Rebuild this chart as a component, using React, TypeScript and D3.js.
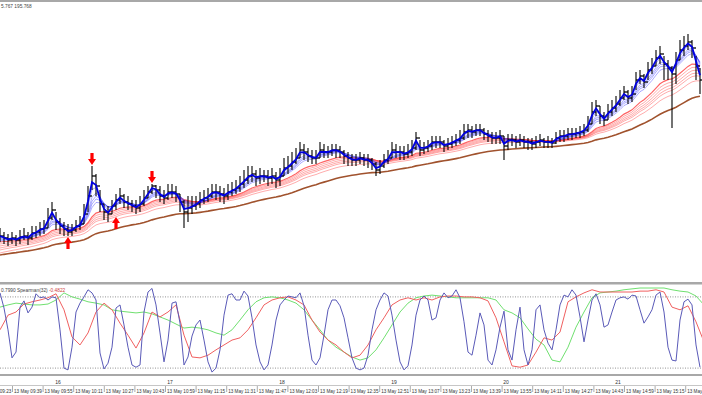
import * as d3 from "d3";
import React from "react";

// 2-minute points (price)
const closes = [
  194.82, 194.81, 194.8, 194.81, 194.8, 194.815, 194.82, 194.81, 194.835, 194.84, 194.855, 194.86,
  194.91, 194.95, 194.89, 194.87, 194.855, 194.84, 194.85, 194.87, 194.88, 194.93, 195.02, 195.12,
  195.07, 194.98, 194.94, 194.93, 194.97, 195.0, 195.02, 194.99, 194.98, 194.97, 194.96, 194.98,
  195.01, 195.04, 195.07, 195.05, 195.02, 195.01, 195.04, 195.04, 195.03, 194.99, 194.94, 194.96,
  194.97, 194.98, 195.0, 195.01, 195.02, 195.04, 195.04, 195.03, 195.02, 195.04, 195.05, 195.06,
  195.08, 195.1, 195.12, 195.13, 195.11, 195.12, 195.12, 195.11, 195.12, 195.1, 195.12, 195.16,
  195.17, 195.19, 195.21, 195.25, 195.24, 195.22, 195.21, 195.21, 195.25, 195.24, 195.24, 195.25,
  195.25, 195.24, 195.22, 195.21, 195.2, 195.2, 195.21, 195.2, 195.2, 195.18, 195.15, 195.17,
  195.2, 195.21, 195.25, 195.24, 195.24, 195.23, 195.24, 195.26, 195.31, 195.25, 195.26, 195.27,
  195.29, 195.29, 195.29, 195.27, 195.28, 195.29, 195.3, 195.31, 195.34, 195.35, 195.34, 195.35,
  195.35, 195.33, 195.32, 195.31, 195.31, 195.32, 195.27, 195.3, 195.3, 195.29, 195.3, 195.29,
  195.29, 195.28, 195.29, 195.3, 195.29, 195.29, 195.285, 195.31, 195.32, 195.32, 195.33, 195.33,
  195.335, 195.34, 195.35, 195.38, 195.44, 195.47, 195.42, 195.4, 195.44, 195.46, 195.48, 195.51,
  195.54, 195.51, 195.53, 195.6, 195.62, 195.59, 195.65, 195.67, 195.71, 195.73, 195.68, 195.66,
  195.63, 195.7, 195.75, 195.77, 195.79, 195.76, 195.67, 195.6,
];
const highs = [
  194.86, 194.84, 194.83, 194.84, 194.825, 194.85, 194.86, 194.84, 194.87, 194.87, 194.89, 194.9,
  194.96, 194.99, 194.94, 194.91, 194.89, 194.88, 194.88, 194.9, 194.92, 194.98, 195.07, 195.17,
  195.13, 195.05, 194.98, 194.97, 195.0, 195.03, 195.06, 195.03, 195.02, 195.0, 195.0, 195.02,
  195.05, 195.07, 195.08, 195.075, 195.07, 195.05, 195.08, 195.08, 195.07, 195.03, 195.0, 195.02,
  195.02, 195.02, 195.04, 195.05, 195.06, 195.08, 195.08, 195.07, 195.06, 195.08, 195.09, 195.1,
  195.12, 195.15, 195.17, 195.17, 195.15, 195.16, 195.15, 195.15, 195.16, 195.14, 195.16, 195.21,
  195.22, 195.24, 195.26, 195.29, 195.28, 195.26, 195.25, 195.25, 195.29, 195.28, 195.27, 195.28,
  195.28, 195.27, 195.25, 195.24, 195.23, 195.23, 195.24, 195.23, 195.23, 195.21, 195.19, 195.2,
  195.23, 195.25, 195.29, 195.28, 195.27, 195.27, 195.28, 195.3, 195.34, 195.3, 195.29, 195.3,
  195.32, 195.32, 195.32, 195.3, 195.31, 195.32, 195.33, 195.35, 195.38, 195.38, 195.37, 195.38,
  195.38, 195.36, 195.35, 195.34, 195.34, 195.35, 195.32, 195.33, 195.33, 195.32, 195.33, 195.32,
  195.31, 195.31, 195.32, 195.33, 195.31, 195.32, 195.31, 195.34, 195.35, 195.35, 195.36, 195.36,
  195.36, 195.37, 195.38, 195.42, 195.49, 195.5, 195.47, 195.44, 195.48, 195.5, 195.52, 195.55,
  195.57, 195.55, 195.57, 195.64, 195.65, 195.63, 195.69, 195.71, 195.75, 195.77, 195.72, 195.7,
  195.67, 195.74, 195.8, 195.82, 195.83, 195.8, 195.72, 195.66,
];
const lows = [
  194.79, 194.78, 194.77, 194.78, 194.77, 194.78, 194.8, 194.775, 194.8, 194.81, 194.82, 194.83,
  194.86, 194.9, 194.85, 194.83, 194.82, 194.82, 194.82, 194.84, 194.85, 194.88, 194.94, 195.05,
  195.02, 194.94, 194.9, 194.89, 194.93, 194.95, 194.98, 194.96, 194.95, 194.94, 194.93, 194.94,
  194.97, 195.01, 195.03, 195.01, 194.99, 194.98, 195.0, 195.01, 194.99, 194.94, 194.86, 194.89,
  194.93, 194.95, 194.96, 194.98, 194.99, 195.01, 195.0, 194.99, 194.98, 195.0, 195.02, 195.03,
  195.04, 195.06, 195.08, 195.09, 195.07, 195.08, 195.09, 195.07, 195.08, 195.06, 195.07, 195.12,
  195.13, 195.15, 195.18, 195.21, 195.2, 195.19, 195.18, 195.18, 195.21, 195.21, 195.21, 195.22,
  195.21, 195.21, 195.18, 195.17, 195.17, 195.17, 195.18, 195.17, 195.16, 195.15, 195.12, 195.13,
  195.16, 195.18, 195.21, 195.21, 195.2, 195.2, 195.21, 195.22, 195.25, 195.22, 195.23, 195.24,
  195.25, 195.26, 195.26, 195.24, 195.25, 195.26, 195.27, 195.28, 195.3, 195.31, 195.31, 195.32,
  195.32, 195.3, 195.29, 195.28, 195.28, 195.28, 195.2, 195.25, 195.27, 195.26, 195.27, 195.26,
  195.25, 195.25, 195.26, 195.27, 195.26, 195.26, 195.26, 195.28, 195.29, 195.29, 195.3, 195.3,
  195.31, 195.31, 195.32, 195.34, 195.38, 195.42, 195.38, 195.37, 195.4, 195.42, 195.44, 195.47,
  195.5, 195.48, 195.49, 195.55, 195.58, 195.56, 195.6, 195.63, 195.67, 195.68, 195.6, 195.6,
  195.36, 195.58, 195.7, 195.72, 195.75, 195.71, 195.6, 195.53,
];

// moving average ribbons (periods in 1-minute bars) and their values at the left edge
const fastPeriods = [3, 5, 8, 10, 12, 15];
const fastSeeds = [194.82, 194.815, 194.81, 194.805, 194.8, 194.795];
const slowPeriods = [30, 35, 40, 45, 50, 60];
const slowSeeds = [194.79, 194.78, 194.77, 194.76, 194.75, 194.735];
const trendPeriod = 100;
const trendSeed = 194.725;
const barsPerPoint = 2;

// arrows: bar index, direction, price of the tip
const signals = [
  { bar: 17, dir: "up", price: 194.815 },
  { bar: 23, dir: "down", price: 195.175 },
  { bar: 29, dir: "up", price: 194.915 },
  { bar: 38, dir: "down", price: 195.085 },
];

// lower window: blue every point, red and green every second point
const spearmanBlue = [
  0.89, 0.55, 0.06, -0.57, -0.44, 0.57, 0.71, 0.44, 0.57, 0.87, 0.78, 0.8, 0.73, 0.8, 0.78, 0.06,
  -0.8, -0.84, -0.33, 0.46, 0.66, 0.8, 0.96, 0.89, 0.73, -0.46, -0.82, -0.69, -0.33, 0.55, 0.62, 0.17,
  -0.33, -0.73, -0.78, -0.73, 0.46, 0.91, 0.99, 0.62, -0.01, -0.66, -0.17, 0.66, 0.69, 0.21, -0.73, -0.55,
  -0.08, 0.17, 0.28, -0.17, -0.66, -0.89, -0.8, -0.39, 0.39, 0.84, 0.87, 0.73, 0.73, 0.93, 0.82, 0.33,
  -0.28, -0.66, -0.84, -0.73, -0.28, 0.28, 0.62, 0.73, 0.82, 0.8, 0.78, 0.89, 0.6, -0.06, -0.62, -0.73,
  -0.57, -0.06, 0.51, 0.73, 0.73, 0.6, 0.33, -0.12, -0.57, -0.8, -0.84, -0.8, -0.51, 0.06, 0.51, 0.73,
  0.89, 0.82, 0.39, -0.17, -0.66, -0.84, -0.75, -0.28, 0.39, 0.73, 0.82, 0.73, 0.28, 0.33, 0.73, 0.89,
  0.78, 0.82, 0.96, 0.78, 0.24, -0.44, -0.51, -0.06, 0.44, 0.17, -0.62, -0.73, -0.39, 0.12, 0.48, -0.39,
  -0.62, 0.06, 0.57, -0.39, -0.73, -0.39, 0.51, 0.62, 0.06, -0.24, -0.39, 0.06, 0.62, 0.84, 0.8, 0.96,
  0.84, 0.35, -0.21, 0.28, 0.73, 0.87, 0.62, 0.12, 0.17, 0.46, 0.73, 0.78, 0.8, 0.75, 0.84, 0.82,
  0.51, 0.21, 0.35, 0.51, 0.84, 0.91, 0.46, -0.33, -0.62, -0.64, 0.28, 0.69, 0.75, 0.62, -0.28, -0.78,
];
const spearmanRed = [
  0.06, 0.39, 0.46, 0.64, 0.69, 0.73, 0.78, 0.87, 0.51, -0.1, -0.28, -0.01, 0.46, 0.66, 0.51, 0.21,
  -0.06, -0.35, -0.01, 0.46, 0.35, 0.46, 0.62, -0.06, -0.55, -0.57, -0.51, -0.39, -0.28, -0.17, -0.12, 0.06,
  0.33, 0.62, 0.73, 0.78, 0.8, 0.73, 0.62, 0.28, 0.01, -0.17, -0.28, -0.44, -0.57, -0.51, -0.28, 0.06,
  0.33, 0.62, 0.73, 0.78, 0.73, 0.78, 0.73, 0.8, 0.82, 0.82, 0.8, 0.8, 0.78, 0.71, 0.33, -0.21,
  -0.75, -0.78, -0.73, -0.44, -0.12, -0.17, 0.01, 0.69, 0.8, 0.89, 0.96, 0.91, 0.91, 0.91, 0.91, 0.91,
  0.93, 0.93, 0.96, 0.91, 0.57, 0.51, 0.6, 0.24, -0.21,
];
const spearmanGreen = [
  0.57, 0.62, 0.66, 0.64, 0.62, 0.62, 0.64, 0.73, 0.89, 0.8, 0.75, 0.69, 0.66, 0.62, 0.51, 0.48,
  0.46, 0.44, 0.46, 0.42, 0.35, 0.28, 0.19, 0.1, 0.12, 0.1, 0.06, -0.01, -0.06, 0.06, 0.28, 0.51,
  0.69, 0.78, 0.8, 0.78, 0.73, 0.66, 0.51, 0.28, 0.06, -0.17, -0.33, -0.44, -0.55, -0.62, -0.57, -0.39,
  -0.12, 0.17, 0.46, 0.66, 0.78, 0.82, 0.84, 0.82, 0.8, 0.78, 0.78, 0.78, 0.78, 0.78, 0.73, 0.51,
  0.44, 0.33, 0.08, -0.15, -0.28, -0.62, -0.66, -0.33, 0.12, 0.46, 0.78, 0.89, 0.91, 0.93, 0.96, 0.98,
  1.0, 1.0, 1.0, 1.0, 0.96, 0.93, 0.91, 0.82, 0.62,
];
const levels = [0.8, -0.8];

const dayLabels = [16, 17, 18, 19, 20, 21];
const timeLabels = [
  "09:23", "09:39", "09:55", "10:11", "10:27", "10:43", "10:59", "11:15", "11:31", "11:47", "12:03", "12:19",
  "12:35", "12:51", "13:07", "13:23", "13:39", "13:55", "14:11", "14:27", "14:43", "14:59", "15:15", "15:31",
];

function ema(src: number[], period: number, seed: number) {
  const a = 1 - Math.pow(1 - 2 / (period + 1), barsPerPoint);
  const out = [seed];
  let v = seed;
  for (let i = 1; i < src.length; i++) {
    v = v + a * (src[i] - v);
    out.push(v);
  }
  return out;
}

const font = "'Liberation Sans', Arial, sans-serif";

export default function App() {
  const width = 702;
  const height = 395;
  const n = closes.length;

  const x = d3.scaleLinear().domain([0, n - 1]).range([0, (n - 1) * 4]);
  const y = d3.scaleLinear().domain([194.585, 196]).range([283, 0]);
  const yInd = d3.scaleLinear().domain([-1, 1]).range([377, 288]);
  const parse = d3.timeParse("%H:%M");
  const xTime = d3.scaleTime().domain([parse("09:39")!, parse("15:31")!]).range([12.5, 685.7]);
  const xDay = d3.scaleLinear().domain([16, 21]).range([58, 618]);

  const priceLine = d3.line<number>().x((_, i) => x(i)).y((d) => y(d));
  const fastLine = d3.line<number>().x((_, i) => x(i)).y((d) => yInd(d));
  const slowLine = d3.line<number>().x((_, i) => x(i * 2)).y((d) => yInd(d));

  const fast = fastPeriods.map((p, k) => ema(closes, p, fastSeeds[k]));
  const slow = slowPeriods.map((p, k) => ema(closes, p, slowSeeds[k]));
  const trend = ema(closes, trendPeriod, trendSeed);
  const opens = closes.map((c, i) => (i === 0 ? c : closes[i - 1]));

  const arrow = (s: { bar: number; dir: string; price: number }, i: number) => {
    const cx = x(s.bar);
    const ty = y(s.price);
    const d = s.dir === "down" ? 1 : -1;
    const path = `M${cx - 1.6},${ty - 12 * d} L${cx + 1.6},${ty - 12 * d} L${cx + 1.6},${ty - 6 * d} L${cx + 4},${ty - 6 * d} L${cx},${ty} L${cx - 4},${ty - 6 * d} L${cx - 1.6},${ty - 6 * d} Z`;
    return <path key={i} d={path} fill="#ff0000" />;
  };

  return (
    <svg width={width} height={height} style={{ position: "absolute", left: 0, top: 0, background: "#fff" }}>
      <rect x={0} y={0} width={width} height={height} fill="#fff" />
      <rect x={0} y={0} width={width} height={2} fill="#a8a8a8" />
      <text x={1} y={7.5} fontSize={4.8} fontFamily={font} fill="#444">5.767 195.768</text>

      {/* ribbons */}
      {slow.map((s, k) => (
        <path
          key={"s" + k}
          d={priceLine(s)!}
          fill="none"
          stroke="#ff3030"
          strokeOpacity={k === 0 ? 0.75 : 0.5}
          strokeWidth={k === 0 ? 1.2 : 0.8}
        />
      ))}
      <path d={priceLine(trend)!} fill="none" stroke="#a0522d" strokeWidth={1.6} />
      {fast.map((s, k) =>
        k === 0 ? null : (
          <path key={"f" + k} d={priceLine(s)!} fill="none" stroke="#3030ff" strokeOpacity={0.5} strokeWidth={0.8} />
        )
      )}

      {/* bars */}
      <g stroke="#000" strokeWidth={1.3} strokeOpacity={0.85}>
        {closes.map((c, i) => (
          <g key={i}>
            <line x1={x(i)} x2={x(i)} y1={y(highs[i])} y2={y(lows[i])} />
            <line x1={x(i) - 2} x2={x(i)} y1={y(opens[i])} y2={y(opens[i])} />
            <line x1={x(i)} x2={x(i) + 2} y1={y(c)} y2={y(c)} />
          </g>
        ))}
      </g>

      <path d={priceLine(fast[0])!} fill="none" stroke="#0000e0" strokeWidth={1.8} />
      {signals.map(arrow)}

      {/* lower window */}
      <rect x={0} y={282} width={width} height={2.5} fill="#a8a8a8" />
      <text x={1} y={292} fontSize={4.8} fontFamily={font} fill="#444">
        0.7990 Spearman(32) <tspan fill="#d04040">-0.4822</tspan>
      </text>
      {levels.map((l) => (
        <line key={l} x1={0} x2={width} y1={yInd(l)} y2={yInd(l)} stroke="#777" strokeWidth={0.8} strokeDasharray="1,1.5" />
      ))}
      <path d={slowLine(spearmanGreen)!} fill="none" stroke="#70e070" strokeWidth={1} />
      <path d={slowLine(spearmanRed)!} fill="none" stroke="#f06060" strokeWidth={1} />
      <path d={fastLine(spearmanBlue)!} fill="none" stroke="#5a5ab8" strokeWidth={1} />
      <rect x={0} y={374} width={width} height={2} fill="#a8a8a8" />

      {/* time axis */}
      {dayLabels.map((d) => (
        <text key={d} x={xDay(d)} y={383.5} fontSize={5} fontFamily={font} fill="#333" textAnchor="middle">{d}</text>
      ))}
      <line x1={0} x2={width} y1={385.5} y2={385.5} stroke="#b8b8b8" strokeWidth={0.8} />
      {timeLabels.map((t) => {
        const tx = xTime(parse(t)!);
        return (
          <g key={t}>
            <line x1={tx} x2={tx} y1={386} y2={392} stroke="#888" strokeWidth={0.7} />
            <text x={tx + 1.5} y={393} fontSize={4.6} fontFamily={font} fill="#333">{"13 May " + t}</text>
          </g>
        );
      })}
    </svg>
  );
}
